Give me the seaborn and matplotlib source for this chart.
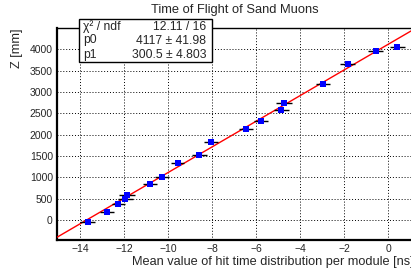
import numpy as np
import pandas as pd
import matplotlib
matplotlib.use("Agg")
import matplotlib.pyplot as plt
import seaborn as sns

# data
time_ns = [-13.65, -12.77, -12.26, -11.95, -11.86, -10.82, -10.29, -9.56, -8.58,
           -8.05, -6.47, -5.77, -4.85, -4.74, -2.97, -1.83, -0.56, 0.42]
z_mm = [-54, 194, 375, 485, 593, 836, 1015, 1335, 1515,
        1820, 2140, 2320, 2570, 2750, 3195, 3648, 3967, 4061]
time_err = [0.34, 0.32, 0.30, 0.35, 0.36, 0.33, 0.32, 0.30, 0.34,
            0.33, 0.32, 0.33, 0.34, 0.35, 0.33, 0.34, 0.34, 0.34]

# fit parameters shown in the stats box
p0, p0_err = 4117, 41.98
p1, p1_err = 300.5, 4.803
chi2_label = "12.11 / 16"

sns.set_style("white")
plt.rcParams['font.family'] = ['Liberation Sans', 'DejaVu Sans']

df = pd.DataFrame({"t": time_ns, "z": z_mm})

fig = plt.figure(figsize=(4.11, 2.72), dpi=100)
ax = fig.add_axes([57 / 411, 32 / 272, 363 / 411, 212 / 272])

xlim = (-15.05, 1.45)
ylim = (-470, 4500)

# grid
ax.set_xticks(np.arange(-14, 1.5, 2))
ax.set_yticks(np.arange(0, 4001, 500))
ax.grid(True, color="black", linestyle=(0, (1, 2)), linewidth=0.7)

# fit line
tt = np.array(xlim)
fit = pd.DataFrame({"t": tt, "z": p0 + p1 * tt})
sns.lineplot(data=fit, x="t", y="z", color="red", linewidth=1.0, ax=ax, zorder=3)

# error bars + markers
ax.errorbar(time_ns, z_mm, xerr=time_err, fmt="none",
            ecolor="black", elinewidth=1.0, capsize=0, zorder=4)
sns.scatterplot(data=df, x="t", y="z", marker="s", color="blue", s=24,
                edgecolor="blue", linewidth=0, ax=ax, zorder=5)

ax.set_xlim(*xlim)
ax.set_ylim(*ylim)

ax.xaxis.set_minor_locator(matplotlib.ticker.MultipleLocator(0.5))
ax.yaxis.set_minor_locator(matplotlib.ticker.MultipleLocator(100))
ax.tick_params(which="major", direction="in", length=7, width=1.0,
               labelsize=7.5, top=False, right=False, pad=3)
ax.tick_params(which="minor", direction="in", length=3.5, width=0.8,
               top=False, right=False)
ax.set_xticklabels([f"{v:g}".replace("-", "\u2212") for v in ax.get_xticks()])

for side in ["left", "bottom"]:
    ax.spines[side].set_linewidth(1.6)
ax.spines["top"].set_linewidth(1.0)
for s in ax.spines.values():
    s.set_color("black")

ax.set_xlabel("Mean value of hit time distribution per module [ns]",
              fontsize=9.2, loc="right")
ax.xaxis.set_label_coords(0.983, -0.075)
ax.set_ylabel("Z [mm]", fontsize=9.2, loc="top", labelpad=5)

fig.text(235 / 411, 1 - 10 / 272, "Time of Flight of Sand Muons",
         ha="center", va="center", fontsize=9.3)

# stats box
box = plt.Rectangle((79 / 411, 1 - 62 / 272), 133 / 411, 43.5 / 272,
                    transform=fig.transFigure, facecolor="white",
                    edgecolor="black", linewidth=1.0, zorder=10)
fig.patches.append(box)
rows = [("\u03c7\u00b2 / ndf", chi2_label),
        ("p0", f"{p0} \u00b1 {p0_err}"),
        ("p1", f"{p1} \u00b1 {p1_err}")]
for i, (name, val) in enumerate(rows):
    y = 1 - (26.5 + i * 14) / 272
    fig.text(83 / 411, y, name, ha="left", va="center", fontsize=8.7, zorder=11)
    fig.text(206 / 411, y, val, ha="right", va="center", fontsize=8.7, zorder=11)

fig.savefig("out.png", dpi=100)
